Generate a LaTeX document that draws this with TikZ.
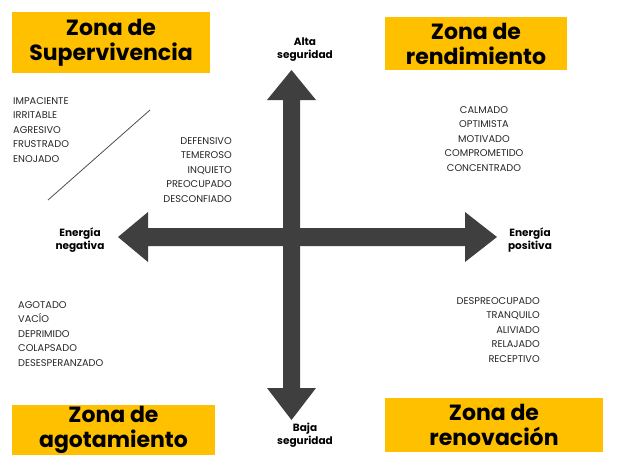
\documentclass[tikz,border=0pt]{standalone}
\usepackage{fontspec}
\setmainfont{Poppins}
\definecolor{zone}{HTML}{FFC000}
\definecolor{arr}{HTML}{3F3F3F}
\begin{document}
\begin{tikzpicture}[x=1pt,y=-1pt,
  zonebox/.style={fill=zone,draw=none},
  zonetxt/.style={font=\fontsize{22}{25}\selectfont\bfseries,align=center,text=black},
  axlbl/.style={font=\fontsize{10.5}{13}\selectfont\bfseries,align=center},
  lst/.style={font=\fontsize{9.8}{14.6}\selectfont,text=black!85,inner sep=0pt}]
\useasboundingbox (0,0) rectangle (619,467);
\fill[zonebox] (12,12) rectangle (210,73);
\node[zonetxt] (z1) at (111,42.5) {Zona de\\Supervivencia};
\fill[zonebox] (385,17) rectangle (567,70);
\node[zonetxt] (z2) at (476,43.5) {Zona de\\rendimiento};
\fill[zonebox] (12,405) rectangle (215,455);
\node[zonetxt] (z3) at (113.5,430) {Zona de\\agotamiento};
\fill[zonebox] (385,398) rectangle (603,452);
\node[zonetxt] (z4) at (494,425) {Zona de\\renovación};
% arrows
\fill[arr] (291.5,70) -- (316,100) -- (300,100) -- (300,388) -- (316,388) -- (291.5,420)
  -- (267,388) -- (283,388) -- (283,100) -- (267,100) -- cycle;
\fill[arr] (118,237) -- (148,212) -- (148,228) -- (465,228) -- (465,212) -- (497,237)
  -- (465,262) -- (465,246) -- (148,246) -- (148,262) -- cycle;
\node[axlbl] (a1) at (305,50) {Alta\\seguridad};
\node[axlbl] (a2) at (305,435) {Baja\\seguridad};
\node[axlbl] (a3) at (80,240) {Energía\\negativa};
\node[axlbl] (a4) at (530,240) {Energía\\positiva};
\node[lst,align=left,anchor=north west] (l1) at (13,97) {IMPACIENTE\\IRRITABLE\\AGRESIVO\\FRUSTRADO\\ENOJADO};
\node[lst,align=right,anchor=north east] (l2) at (232,137) {DEFENSIVO\\TEMEROSO\\INQUIETO\\PREOCUPADO\\DESCONFIADO};
\coordinate (d1) at (150,110);
\coordinate (d2) at (48,200);
\draw[black!70,line width=0.8pt] (d1) -- (d2);
\node[lst,align=center,anchor=north] (l3) at (484,106) {CALMADO\\OPTIMISTA\\MOTIVADO\\COMPROMETIDO\\CONCENTRADO};
\node[lst,align=left,anchor=north west] (l4) at (18,301) {AGOTADO\\VACÍO\\DEPRIMIDO\\COLAPSADO\\DESESPERANZADO};
\node[lst,align=right,anchor=north east] (l5) at (540,297) {DESPREOCUPADO\\TRANQUILO\\ALIVIADO\\RELAJADO\\RECEPTIVO};
\end{tikzpicture}
\end{document}
